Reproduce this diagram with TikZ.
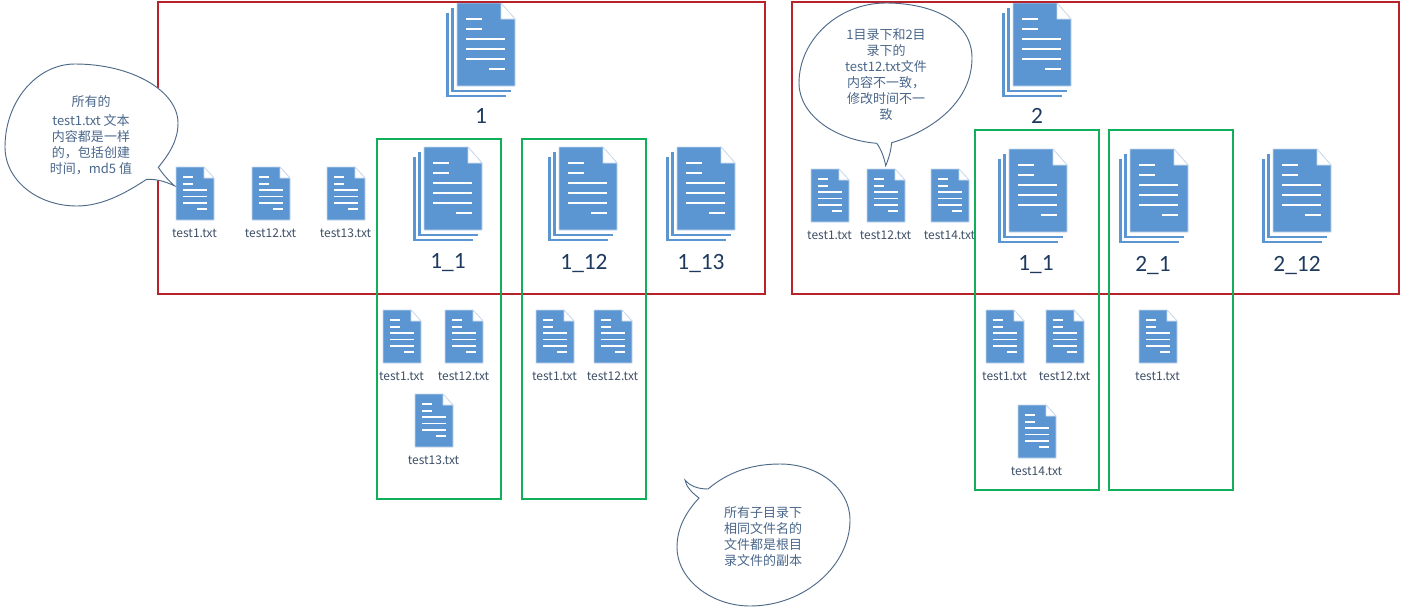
\documentclass[tikz,border=0pt]{standalone}
\usepackage{fontspec}
\setmainfont{Noto Sans CJK SC}
\newfontfamily\numfont{Carlito}
\definecolor{docblue}{HTML}{5B96D3}
\definecolor{docedge}{HTML}{C8D9EC}
\definecolor{boxred}{HTML}{B8232B}
\definecolor{boxgreen}{HTML}{12AF5A}
\definecolor{labelcol}{HTML}{3F5068}
\definecolor{numcol}{HTML}{1F3A5F}
\definecolor{calltext}{HTML}{4A678A}
\definecolor{callline}{HTML}{4F6A88}
\tikzset{
  x=.75pt,y=-.75pt,
  docbody/.style={fill=docblue,draw=docedge,line width=.5pt},
  docfold/.style={fill=white,draw=docedge,line width=.5pt},
  docline/.style={draw=white,line width=.9pt},
  stackbar/.style={draw=docblue,line width=1.8pt,line join=miter},
  smalllabel/.style={text=labelcol,font=\fontsize{9}{11}\selectfont,inner sep=0pt},
  numlabel/.style={text=numcol,font=\numfont\fontsize{17.5}{20}\selectfont,inner sep=0pt},
  redbox/.style={draw=boxred,line width=1.5pt},
  greenbox/.style={draw=boxgreen,line width=1.5pt},
  callshape/.style={fill=white,draw=callline,line width=.7pt,line join=miter},
  calltxt/.style={text=calltext,align=center,inner sep=0pt,font=\fontsize{9.75}{12}\selectfont},
}
% name, x, y, label
\newcommand{\docicon}[4]{%
  \begin{scope}[shift={(#2,#3)}]
    \path[docbody] (0,0) -- (28,0) -- (38,11) -- (38,53) -- (0,53) -- cycle;
    \path[docfold] (28,0) -- (38,11) -- (28,11) -- cycle;
    \draw[docline] (7,10) -- (17,10) (7,17) -- (17,17) (7,23) -- (31,23) (7,29.5) -- (31,29.5) (7,36) -- (31,36) (21,42) -- (31,42);
    \node[smalllabel] (#1) at (18.5,66) {#4};
  \end{scope}}
% name, x, y, label, label dx, label dy
\newcommand{\stackicon}[6]{%
  \begin{scope}[shift={(#2,#3)}]
    \draw[stackbar] (-9.5,10) -- (-9.5,93) -- (49,93);
    \draw[stackbar] (-4.5,5) -- (-4.5,88) -- (54,88);
    \path[docbody] (0,0) -- (44,0) -- (58,16) -- (58,83) -- (0,83) -- cycle;
    \path[docfold] (44,0) -- (58,16) -- (44,16) -- cycle;
    \draw[docline] (9,16) -- (25,16) (9,26) -- (25,26) (9,36) -- (48,36) (9,46) -- (48,46) (9,56) -- (48,56) (32,66) -- (48,66);
    \node[numlabel] (#1) at (#5,#6) {#4};
  \end{scope}}
\begin{document}
\begin{tikzpicture}
\useasboundingbox (0,0) rectangle (1405,614);
\fill[white] (0,0) rectangle (1405,614);

\stackicon{s1}{457}{3}{1}{24}{113}
\stackicon{s11}{424}{147}{1\_1}{24}{116}
\stackicon{s112}{559}{147}{1\_12}{25}{116}
\stackicon{s113}{677}{147}{1\_13}{24}{116}
\stackicon{s2}{1013}{3}{2}{24}{113}
\stackicon{s21}{1009}{149}{1\_1}{27}{116}
\stackicon{s22}{1130}{149}{2\_1}{23}{116}
\stackicon{s23}{1273}{149}{2\_12}{24}{116}

\docicon{a1}{176}{167}{test1.txt}
\docicon{a2}{252}{167}{test12.txt}
\docicon{a3}{327}{167}{test13.txt}
\docicon{b1}{383}{310}{test1.txt}
\docicon{b2}{445}{310}{test12.txt}
\docicon{b3}{415}{394}{test13.txt}
\docicon{c1}{536}{310}{test1.txt}
\docicon{c2}{594}{310}{test12.txt}
\docicon{d1}{811}{169}{test1.txt}
\docicon{d2}{867}{169}{test12.txt}
\docicon{d3}{931}{169}{test14.txt}
\docicon{e1}{986}{310}{test1.txt}
\docicon{e2}{1046}{310}{test12.txt}
\docicon{e3}{1018}{405}{test14.txt}
\docicon{f1}{1139}{310}{test1.txt}

\draw[redbox] (158,2) rectangle (765,294);
\draw[redbox] (792,2) rectangle (1399,294);
\draw[greenbox] (377,139) rectangle (501,499);
\draw[greenbox] (522,139) rectangle (646,499);
\draw[greenbox] (975,130) rectangle (1099,490);
\draw[greenbox] (1109,130) rectangle (1233,490);

% callout 1
\draw[callshape] (158.3,167.3)
 .. controls (170,153) and (178,140) .. (178,123)
 .. controls (178,91) and (132,64) .. (75,64)
 .. controls (37,64) and (5,101) .. (5,147)
 .. controls (5,180) and (37,206) .. (77,206)
 .. controls (105,206) and (130,190) .. (146.7,179.3)
 .. controls (158,179) and (166,182) .. (174.3,185.7)
 .. controls (168,180) and (162,173) .. (158.3,167.3) -- cycle;
\node[calltxt] (n1) at (91,135.5) {所有的\\[2pt]test1.txt 文本\\内容都是一样\\的，包括创建\\时间，md5 值};

% callout 2
\draw[callshape] (876.7,143.3)
 .. controls (835,140) and (799,115) .. (799,83)
 .. controls (799,40) and (838,3) .. (886,3)
 .. controls (930,3) and (972,20) .. (972,58)
 .. controls (972,100) and (935,130) .. (891.7,142.7)
 .. controls (891,150) and (889,158) .. (885.7,165.7)
 .. controls (884,157) and (881,149) .. (876.7,143.3) -- cycle;
\node[calltxt] (n2) at (886,74.5) {1目录下和2目\\录下的\\test12.txt文件\\内容不一致，\\修改时间不一\\致};

% callout 3
\draw[callshape] (708,489)
 .. controls (728,472) and (752,464) .. (780,464)
 .. controls (818,464) and (850,488) .. (850,520)
 .. controls (850,565) and (805,606) .. (750,606)
 .. controls (712,606) and (677,580) .. (677,547)
 .. controls (677,528) and (686,512) .. (699,498)
 .. controls (691,492) and (686,486) .. (685,480)
 .. controls (690,486) and (698,489) .. (708,489) -- cycle;
\node[calltxt] (n3) at (763,537) {所有子目录下\\相同文件名的\\文件都是根目\\录文件的副本};
\end{tikzpicture}
\end{document}
